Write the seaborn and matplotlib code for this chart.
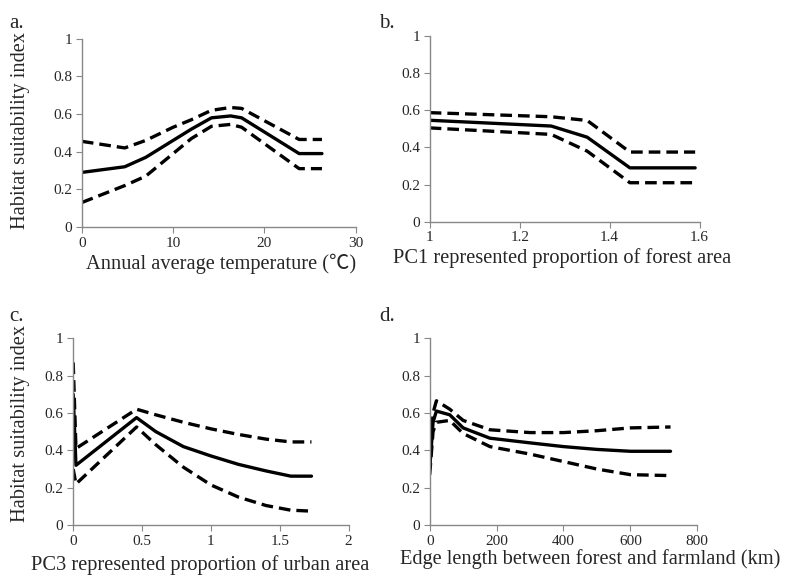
import numpy as np
import pandas as pd
import matplotlib
matplotlib.use("Agg")
import matplotlib.pyplot as plt
import seaborn as sns

# panel a: annual average temperature
temp_x = [0, 4.7, 7, 10, 12, 14.2, 16.3, 17.5, 23.8, 26.3]
temp_mid = [0.29, 0.32, 0.37, 0.46, 0.52, 0.58, 0.59, 0.58, 0.39, 0.39]
temp_up = [0.455, 0.42, 0.46, 0.53, 0.57, 0.62, 0.635, 0.63, 0.465, 0.465]
temp_lo = [0.13, 0.22, 0.27, 0.39, 0.47, 0.535, 0.545, 0.53, 0.31, 0.31]

# panel b: PC1 forest
pc1_x = [1.0, 1.27, 1.35, 1.445, 1.59]
pc1_mid = [0.546, 0.515, 0.455, 0.29, 0.29]
pc1_up = [0.587, 0.565, 0.545, 0.375, 0.375]
pc1_lo = [0.505, 0.47, 0.38, 0.21, 0.21]

# panel c: PC3 urban
pc3_x = [0.0, 0.02, 0.46, 0.6, 0.8, 1.0, 1.2, 1.4, 1.58, 1.73]
pc3_mid = [0.70, 0.32, 0.575, 0.5, 0.42, 0.37, 0.325, 0.29, 0.262, 0.262]
pc3_up = [0.87, 0.41, 0.62, 0.59, 0.55, 0.515, 0.485, 0.46, 0.445, 0.445]
pc3_lo = [0.30, 0.22, 0.525, 0.43, 0.31, 0.215, 0.15, 0.105, 0.08, 0.075]

# panel d: edge length
edge_x = [0, 10, 20, 60, 100, 180, 300, 400, 500, 600, 720]
edge_mid = [0.30, 0.55, 0.61, 0.59, 0.52, 0.465, 0.44, 0.42, 0.405, 0.395, 0.395]
edge_up = [0.33, 0.60, 0.665, 0.62, 0.56, 0.51, 0.495, 0.495, 0.505, 0.52, 0.525]
edge_lo = [0.27, 0.50, 0.55, 0.56, 0.49, 0.42, 0.38, 0.34, 0.30, 0.27, 0.265]

panels = [
    ("a.", temp_x, temp_mid, temp_up, temp_lo, (0, 30), [0, 10, 20, 30],
     "Annual average temperature (\u2103)", True),
    ("b.", pc1_x, pc1_mid, pc1_up, pc1_lo, (1, 1.6), [1, 1.2, 1.4, 1.6],
     "PC1 represented proportion of forest area", False),
    ("c.", pc3_x, pc3_mid, pc3_up, pc3_lo, (0, 2), [0, 0.5, 1, 1.5, 2],
     "PC3 represented proportion of urban area", True),
    ("d.", edge_x, edge_mid, edge_up, edge_lo, (0, 800), [0, 200, 400, 600, 800],
     "Edge length between forest and farmland (km)", False),
]

boxes = [
    [0.104, 0.608, 0.348, 0.325],
    [0.546, 0.617, 0.343, 0.321],
    [0.093, 0.093, 0.350, 0.323],
    [0.546, 0.093, 0.340, 0.323],
]
letter_pos = [(0.012, 0.975), (0.482, 0.975), (0.012, 0.47), (0.482, 0.47)]
xlabel_xy = [(0.51, -0.14), (0.49, -0.14), (0.46, -0.16), (0.6, -0.13)]
ylabel_xy = [(-0.19, 0.51), None, (-0.156, 0.545), None]

sns.set_style("ticks")
plt.rcParams['font.family'] = ['Liberation Serif', 'Noto Sans CJK SC', 'DejaVu Serif']

fig = plt.figure(figsize=(7.87, 5.79), dpi=100)

for i, ((lab, x, mid, up, lo, xl, xt, xlab, show_y), box, lp) in enumerate(zip(panels, boxes, letter_pos)):
    ax = fig.add_axes(box)
    df = pd.DataFrame({'x': x, 'mid': mid, 'up': up, 'lo': lo})
    sns.lineplot(data=df, x='x', y='mid', ax=ax, color='black', lw=2.4)
    for col in ['up', 'lo']:
        sns.lineplot(data=df, x='x', y=col, ax=ax, color='black', lw=2.4,
                     dashes=False, linestyle=(0, (3.5, 1.8)))
    ax.set_xlim(xl)
    ax.set_ylim(0, 1)
    ax.set_xticks(xt)
    ax.set_xticklabels([f"{v:g}" for v in xt])
    ax.set_yticks([0, 0.2, 0.4, 0.6, 0.8, 1])
    ax.set_yticklabels(["0", "0.2", "0.4", "0.6", "0.8", "1"])
    ax.tick_params(labelsize=11, length=4, color='#888888', pad=3)
    for s in ['left', 'bottom']:
        ax.spines[s].set_color('#888888')
        ax.spines[s].set_linewidth(1.0)
    sns.despine(ax=ax)
    ax.set_xlabel(xlab, fontsize=14.7)
    ax.xaxis.set_label_coords(*xlabel_xy[i])
    if show_y:
        ax.set_ylabel("Habitat suitability index", fontsize=14.7)
        ax.yaxis.set_label_coords(*ylabel_xy[i])
    else:
        ax.set_ylabel("")
    fig.text(lp[0], lp[1], lab, fontsize=15, va='top', ha='left')

fig.savefig("out.png", dpi=100)
